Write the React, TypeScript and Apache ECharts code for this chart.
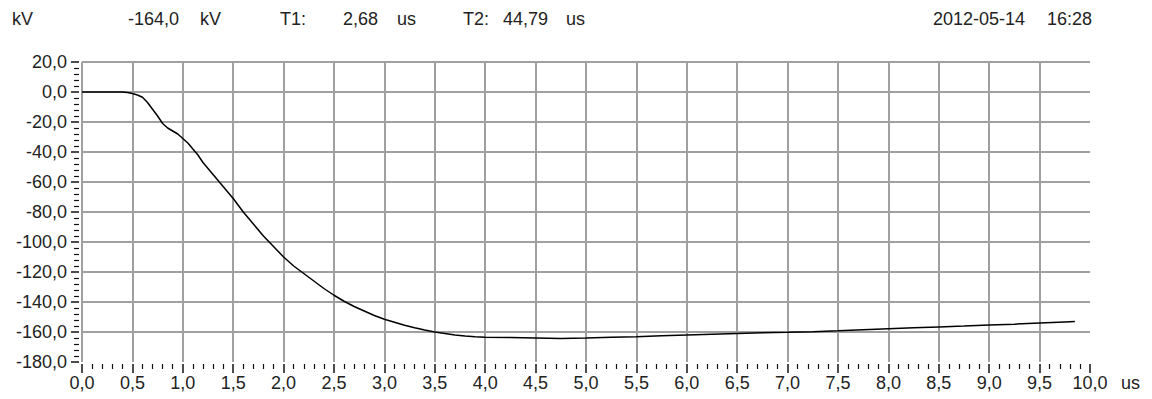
import React, { useEffect, useRef } from "react";
import * as echarts from "echarts";

const timeUs = [
  0, 0.1, 0.2, 0.3, 0.4, 0.45, 0.5, 0.55, 0.6, 0.65, 0.7, 0.75, 0.8, 0.85, 0.9, 0.95,
  1.0, 1.05, 1.1, 1.15, 1.2, 1.3, 1.4, 1.5, 1.6, 1.7, 1.8, 1.9, 2.0, 2.1, 2.2, 2.3,
  2.4, 2.5, 2.6, 2.7, 2.8, 2.9, 3.0, 3.1, 3.2, 3.3, 3.4, 3.5, 3.6, 3.7, 3.8, 3.9,
  4.0, 4.25, 4.5, 4.75, 5.0, 5.25, 5.5, 5.75, 6.0, 6.25, 6.5, 6.75, 7.0, 7.25, 7.5,
  7.75, 8.0, 8.25, 8.5, 8.75, 9.0, 9.25, 9.5, 9.75, 9.85,
];
const voltageKv = [
  0, 0, 0, 0, 0, -0.3, -1, -2, -3.5, -7, -11.5, -16, -21, -24, -26, -28,
  -31, -34, -38, -42, -47, -55, -63, -71, -80, -88, -96, -103, -110, -116, -121, -126,
  -131, -135.5, -139.5, -143, -146, -149, -151.5, -153.5, -155.5, -157.2, -158.7, -160, -161, -162, -162.7, -163.2,
  -163.5, -163.7, -164, -164.3, -164, -163.5, -163.2, -162.5, -162, -161.5, -161, -160.5, -160.2, -159.8, -159.2,
  -158.5, -157.8, -157.2, -156.6, -156, -155.3, -154.8, -154, -153.3, -153,
];

const headerTexts = [
  { text: "kV", x: 12 },
  { text: "-164,0", x: 128 },
  { text: "kV", x: 200 },
  { text: "T1:", x: 280 },
  { text: "2,68", x: 343 },
  { text: "us", x: 397 },
  { text: "T2:", x: 463 },
  { text: "44,79", x: 503 },
  { text: "us", x: 566 },
  { text: "2012-05-14", x: 933 },
  { text: "16:28", x: 1047 },
];
const xUnit = "us";

const FONT = "'Liberation Sans', Arial, sans-serif";
const fmt = (v: number) => v.toFixed(1).replace(".", ",");

export default function App() {
  const ref = useRef<HTMLDivElement>(null);
  useEffect(() => {
    if (!ref.current) return;
    const chart = echarts.init(ref.current, null, { renderer: "svg" });
    const data = timeUs.map((t, i) => [t, voltageKv[i]]);
    chart.setOption({
      animation: false,
      backgroundColor: "#ffffff",
      grid: { left: 82, right: 62, top: 62, bottom: 37, containLabel: false },
      xAxis: {
        type: "value",
        min: 0,
        max: 10,
        interval: 0.5,
        offset: 2,
        axisLine: { show: false, onZero: false },
        axisTick: { show: true, length: 9, lineStyle: { color: "#111", width: 1.5 } },
        minorTick: { show: true, splitNumber: 5, length: 5, lineStyle: { color: "#111", width: 1.2 } },
        splitLine: {
          show: true,
          showMinLine: true,
          showMaxLine: false,
          lineStyle: { color: "#a0a0a0", width: 2 },
        },
        axisLabel: {
          margin: 10,
          color: "#222",
          fontSize: 18,
          fontFamily: FONT,
          formatter: (v: number) => fmt(v),
          showMinLabel: true,
          showMaxLabel: true,
        },
      },
      yAxis: {
        type: "value",
        min: -180,
        max: 20,
        interval: 20,
        offset: 3,
        axisLine: { show: false, onZero: false },
        axisTick: { show: true, length: 8, lineStyle: { color: "#111", width: 1.5 } },
        minorTick: { show: true, splitNumber: 5, length: 5, lineStyle: { color: "#111", width: 1.2 } },
        splitLine: {
          show: true,
          showMinLine: false,
          showMaxLine: true,
          lineStyle: { color: "#a0a0a0", width: 2 },
        },
        axisLabel: {
          margin: 12,
          color: "#222",
          fontSize: 18,
          fontFamily: FONT,
          formatter: (v: number) => fmt(v),
        },
      },
      graphic: [
        ...headerTexts.map((h) => ({
          type: "text",
          left: h.x,
          top: 10,
          style: { text: h.text, fontSize: 18, fontFamily: FONT, fill: "#222" },
        })),
        {
          type: "text",
          left: 1121,
          top: 374,
          style: { text: xUnit, fontSize: 18, fontFamily: FONT, fill: "#222" },
        },
      ],
      series: [
        {
          type: "line",
          data,
          showSymbol: false,
          smooth: false,
          lineStyle: { color: "#000", width: 1.5 },
        },
      ],
    });
    return () => chart.dispose();
  }, []);
  return (
    <div
      ref={ref}
      style={{ position: "fixed", left: 0, top: 0, width: 1152, height: 399 }}
    />
  );
}
